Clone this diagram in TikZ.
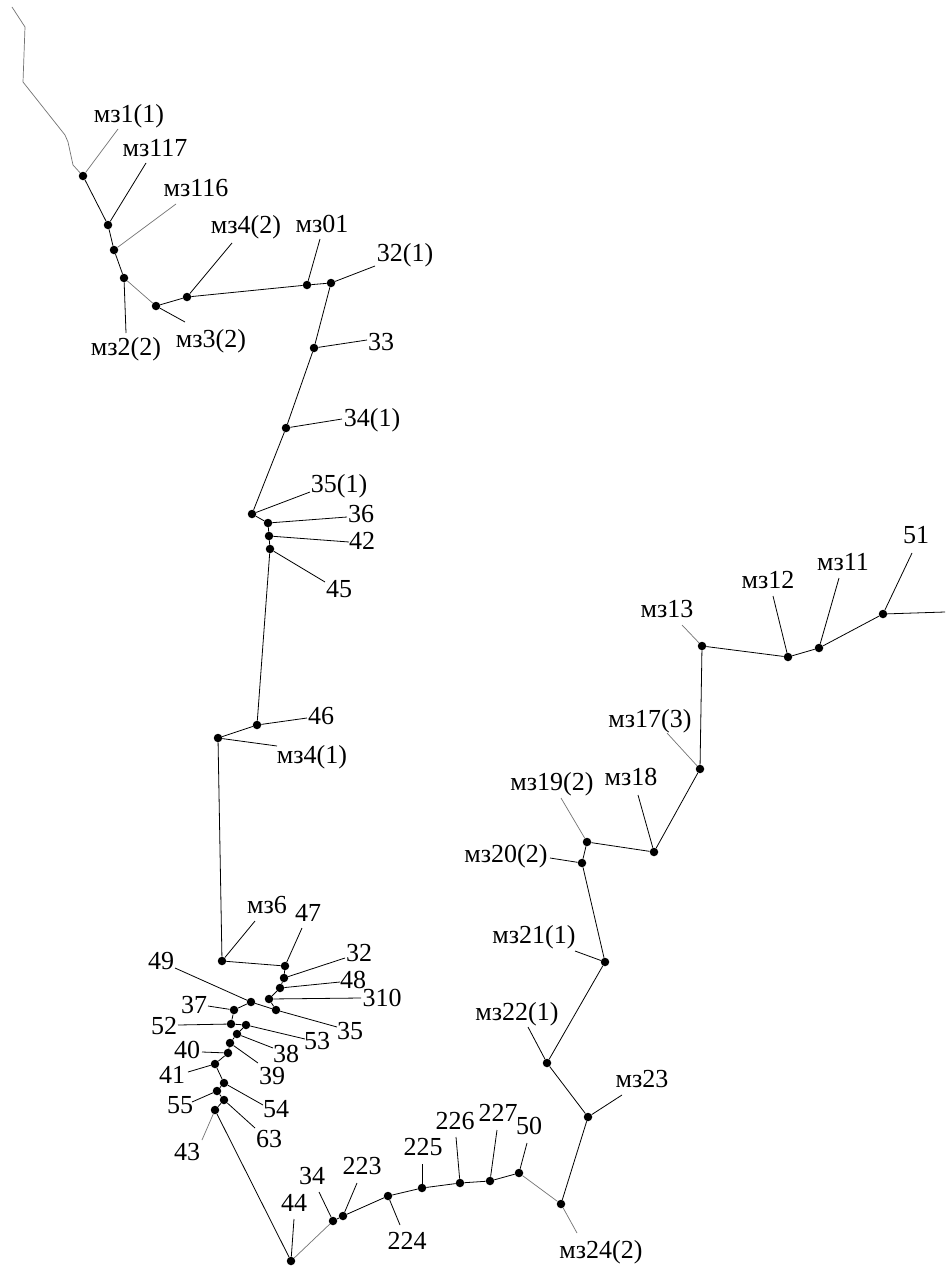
\documentclass[tikz,border=0pt]{standalone}
\usepackage{fontspec}
\setmainfont{Liberation Serif}
\begin{document}
\begin{tikzpicture}[x=1pt,y=-1pt,
  pt/.style={circle,fill=black,inner sep=0pt,minimum size=8.5pt},
  lb/.style={font=\fontsize{26}{28}\selectfont,inner sep=0pt,anchor=base},
  ln/.style={line width=0.8pt,black},
  fl/.style={line width=0.7pt,black!55}]
\fill[white] (0,0) rectangle (945,1279);
\useasboundingbox (0,0) rectangle (945,1279);
% ---------- points ----------
\node[pt] (m31) at (83,176) {};
\node[pt] (m3117) at (108,225) {};
\node[pt] (m3116) at (114,250) {};
\node[pt] (m32b) at (124,278) {};
\node[pt] (m33b) at (156,306) {};
\node[pt] (m34b) at (187,297) {};
\node[pt] (m301) at (307,285) {};
\node[pt] (p32a) at (331,283) {};
\node[pt] (p33) at (314,348) {};
\node[pt] (p34a) at (286,428) {};
\node[pt] (p35a) at (252,514) {};
\node[pt] (p36) at (268,523) {};
\node[pt] (p42) at (269,536) {};
\node[pt] (p45) at (270,549) {};
\node[pt] (p46) at (257,725) {};
\node[pt] (m34a) at (218,738) {};
\node[pt] (m36) at (222,961) {};
\node[pt] (p47) at (285,966) {};
\node[pt] (p32) at (284,978) {};
\node[pt] (p48) at (280,988) {};
\node[pt] (p310) at (269,999) {};
\node[pt] (p49) at (251,1002) {};
\node[pt] (p35) at (276,1010) {};
\node[pt] (p37) at (234,1010) {};
\node[pt] (p52) at (231,1024) {};
\node[pt] (p53) at (246,1025) {};
\node[pt] (p38) at (237,1034) {};
\node[pt] (p39) at (230,1043) {};
\node[pt] (p40) at (228,1053) {};
\node[pt] (p41) at (215,1064) {};
\node[pt] (p54) at (224,1083) {};
\node[pt] (p55) at (217,1091) {};
\node[pt] (p63) at (224,1100) {};
\node[pt] (p43) at (215,1110) {};
\node[pt] (p44) at (291,1261) {};
\node[pt] (p34b) at (333,1221) {};
\node[pt] (p223) at (343,1216) {};
\node[pt] (p224) at (388,1196) {};
\node[pt] (p225) at (422,1188) {};
\node[pt] (p226) at (460,1183) {};
\node[pt] (p227) at (490,1181) {};
\node[pt] (p50) at (519,1173) {};
\node[pt] (m324) at (561,1204) {};
\node[pt] (m323) at (588,1117) {};
\node[pt] (m322) at (547,1063) {};
\node[pt] (m321) at (605,962) {};
\node[pt] (m320) at (582,863) {};
\node[pt] (m319) at (587,842) {};
\node[pt] (m318) at (654,852) {};
\node[pt] (m317) at (700,769) {};
\node[pt] (m313) at (702,646) {};
\node[pt] (m312) at (788,657) {};
\node[pt] (m311) at (819,648) {};
\node[pt] (p51) at (883,614) {};
% ---------- free ends ----------
\coordinate (s1) at (12,7);
\coordinate (s2) at (25,27);
\coordinate (s3) at (23,82);
\coordinate (s4) at (65,135);
\coordinate (s5) at (68,142);
\coordinate (s6) at (73,165);
\coordinate (eEnd) at (945,612);
% ---------- traverse ----------
\draw[fl] (s1) -- (s2) -- (s3) -- (s4) -- (s5) -- (s6) -- (m31);
\draw[ln] (m31) -- (m3117);
\draw[ln] (m3117) -- (m3116);
\draw[ln] (m3116) -- (m32b);
\draw[fl] (m32b) -- (m33b);
\draw[ln] (m33b) -- (m34b);
\draw[ln] (m34b) -- (m301);
\draw[ln] (m301) -- (p32a);
\draw[ln] (p32a) -- (p33);
\draw[ln] (p33) -- (p34a);
\draw[ln] (p34a) -- (p35a);
\draw[ln] (p35a) -- (p36);
\draw[ln] (p36) -- (p42);
\draw[ln] (p42) -- (p45);
\draw[ln] (p45) -- (p46);
\draw[ln] (p46) -- (m34a);
\draw[ln] (m34a) -- (m36);
\draw[ln] (m36) -- (p47);
\draw[ln] (p47) -- (p32);
\draw[ln] (p32) -- (p48);
\draw[ln] (p48) -- (p310);
\draw[ln] (p310) -- (p35);
\draw[ln] (p49) -- (p37);
\draw[ln] (p37) -- (p52);
\draw[ln] (p52) -- (p53);
\draw[ln] (p53) -- (p38);
\draw[ln] (p38) -- (p39);
\draw[ln] (p39) -- (p40);
\draw[ln] (p40) -- (p41);
\draw[ln] (p41) -- (p54);
\draw[ln] (p54) -- (p55);
\draw[ln] (p55) -- (p63);
\draw[ln] (p63) -- (p43);
\draw[ln] (p43) -- (p44);
\draw[fl] (p44) -- (p34b);
\draw[ln] (p34b) -- (p223);
\draw[ln] (p223) -- (p224);
\draw[ln] (p224) -- (p225);
\draw[ln] (p225) -- (p226);
\draw[ln] (p226) -- (p227);
\draw[ln] (p227) -- (p50);
\draw[fl] (p50) -- (m324);
\draw[ln] (m324) -- (m323);
\draw[ln] (m323) -- (m322);
\draw[ln] (m322) -- (m321);
\draw[ln] (m321) -- (m320);
\draw[ln] (m320) -- (m319);
\draw[ln] (m319) -- (m318);
\draw[ln] (m318) -- (m317);
\draw[ln] (m317) -- (m313);
\draw[ln] (m313) -- (m312);
\draw[ln] (m312) -- (m311);
\draw[ln] (m311) -- (p51);
\draw[ln] (p51) -- (eEnd);
% ---------- labels with leaders ----------
\node[lb] (Lm31) at (129,123) {мз1(1)};
\coordinate (Em31) at (118,129);  \draw[fl] (m31) -- (Em31);
\node[lb] (Lm3117) at (155,156) {мз117};
\coordinate (Em3117) at (146,163);  \draw[ln] (m3117) -- (Em3117);
\node[lb] (Lm3116) at (196,196) {мз116};
\coordinate (Em3116) at (176,204);  \draw[fl] (m3116) -- (Em3116);
\node[lb] (Lm34b) at (246,233) {мз4(2)};
\coordinate (Em34b) at (232,243);  \draw[ln] (m34b) -- (Em34b);
\node[lb] (Lm301) at (322,232) {мз01};
\coordinate (Em301) at (320,239);  \draw[ln] (m301) -- (Em301);
\node[lb] (Lp32a) at (405,261) {32(1)};
\coordinate (Ep32a) at (375,266);  \draw[ln] (p32a) -- (Ep32a);
\node[lb] (Lm32b) at (126,355) {мз2(2)};
\coordinate (Em32b) at (126,333);  \draw[ln] (m32b) -- (Em32b);
\node[lb] (Lm33b) at (211,347) {мз3(2)};
\coordinate (Em33b) at (185,322);  \draw[ln] (m33b) -- (Em33b);
\node[lb] (Lp33) at (381,350) {33};
\coordinate (Ep33) at (367,340);  \draw[ln] (p33) -- (Ep33);
\node[lb] (Lp34a) at (372,426) {34(1)};
\coordinate (Ep34a) at (342,419);  \draw[ln] (p34a) -- (Ep34a);
\node[lb] (Lp35a) at (339,492) {35(1)};
\coordinate (Ep35a) at (310,492);  \draw[ln] (p35a) -- (Ep35a);
\node[lb] (Lp36) at (361,522) {36};
\coordinate (Ep36) at (347,517);  \draw[ln] (p36) -- (Ep36);
\node[lb] (Lp42) at (362,549) {42};
\coordinate (Ep42) at (349,542);  \draw[ln] (p42) -- (Ep42);
\node[lb] (Lp45) at (339,597) {45};
\coordinate (Ep45) at (325,582);  \draw[ln] (p45) -- (Ep45);
\node[lb] (Lp46) at (321,724) {46};
\coordinate (Ep46) at (307,718);  \draw[ln] (p46) -- (Ep46);
\node[lb] (Lm34a) at (312,763) {мз4(1)};
\coordinate (Em34a) at (277,746);  \draw[ln] (m34a) -- (Em34a);
\node[lb] (Lm36) at (267,913) {мз6};
\coordinate (Em36) at (255,921);  \draw[ln] (m36) -- (Em36);
\node[lb] (Lp47) at (308,921) {47};
\coordinate (Ep47) at (302,928);  \draw[ln] (p47) -- (Ep47);
\node[lb] (Lp32) at (359,961) {32};
\coordinate (Ep32) at (345,958);  \draw[ln] (p32) -- (Ep32);
\node[lb] (Lp48) at (353,988) {48};
\coordinate (Ep48) at (340,982);  \draw[ln] (p48) -- (Ep48);
\node[lb] (Lp310) at (382,1006) {310};
\coordinate (Ep310) at (361,998);  \draw[ln] (p310) -- (Ep310);
\node[lb] (Lp49) at (161,969) {49};
\coordinate (Ep49) at (175,968);  \draw[ln] (p49) -- (Ep49);
\node[lb] (Lp35) at (350,1039) {35};
\coordinate (Ep35) at (337,1027);  \draw[ln] (p35) -- (Ep35);
\draw[ln] (p49) -- (p35);
\node[lb] (Lp37) at (194,1013) {37};
\coordinate (Ep37) at (208,1006);  \draw[ln] (p37) -- (Ep37);
\node[lb] (Lp52) at (164,1034) {52};
\coordinate (Ep52) at (178,1025);  \draw[ln] (p52) -- (Ep52);
\node[lb] (Lp53) at (317,1049) {53};
\coordinate (Ep53) at (305,1039);  \draw[ln] (p53) -- (Ep53);
\node[lb] (Lp38) at (286,1062) {38};
\coordinate (Ep38) at (273,1048);  \draw[ln] (p38) -- (Ep38);
\node[lb] (Lp39) at (272,1084) {39};
\coordinate (Ep39) at (258,1063);  \draw[ln] (p39) -- (Ep39);
\node[lb] (Lp40) at (187,1058) {40};
\coordinate (Ep40) at (202,1052);  \draw[ln] (p40) -- (Ep40);
\node[lb] (Lp41) at (172,1083) {41};
\coordinate (Ep41) at (188,1072);  \draw[ln] (p41) -- (Ep41);
\node[lb] (Lp54) at (276,1117) {54};
\coordinate (Ep54) at (263,1105);  \draw[ln] (p54) -- (Ep54);
\node[lb] (Lp55) at (180,1113) {55};
\coordinate (Ep55) at (192,1102);  \draw[ln] (p55) -- (Ep55);
\node[lb] (Lp63) at (269,1147) {63};
\coordinate (Ep63) at (255,1128);  \draw[ln] (p63) -- (Ep63);
\node[lb] (Lp43) at (187,1160) {43};
\coordinate (Ep43) at (202,1140);  \draw[fl] (p43) -- (Ep43);
\node[lb] (Lp44) at (294,1211) {44};
\coordinate (Ep44) at (294,1219);  \draw[ln] (p44) -- (Ep44);
\node[lb] (Lp34b) at (312,1184) {34};
\coordinate (Ep34b) at (319,1192);  \draw[ln] (p34b) -- (Ep34b);
\node[lb] (Lp223) at (362,1174) {223};
\coordinate (Ep223) at (357,1183);  \draw[ln] (p223) -- (Ep223);
\node[lb] (Lp224) at (407,1249) {224};
\coordinate (Ep224) at (400,1225);  \draw[ln] (p224) -- (Ep224);
\node[lb] (Lp225) at (423,1155) {225};
\coordinate (Ep225) at (422,1164);  \draw[ln] (p225) -- (Ep225);
\node[lb] (Lp226) at (455,1129) {226};
\coordinate (Ep226) at (456,1137);  \draw[ln] (p226) -- (Ep226);
\node[lb] (Lp227) at (498,1121) {227};
\coordinate (Ep227) at (497,1130);  \draw[ln] (p227) -- (Ep227);
\node[lb] (Lp50) at (529,1134) {50};
\coordinate (Ep50) at (527,1143);  \draw[ln] (p50) -- (Ep50);
\node[lb] (Lm324) at (601,1258) {мз24(2)};
\coordinate (Em324) at (577,1233);  \draw[fl] (m324) -- (Em324);
\node[lb] (Lm323) at (642,1087) {мз23};
\coordinate (Em323) at (622,1095);  \draw[ln] (m323) -- (Em323);
\node[lb] (Lm322) at (517,1020) {мз22(1)};
\coordinate (Em322) at (528,1027);  \draw[ln] (m322) -- (Em322);
\node[lb] (Lm321) at (534,943) {мз21(1)};
\coordinate (Em321) at (575,951);  \draw[ln] (m321) -- (Em321);
\node[lb] (Lm320) at (506,862) {мз20(2)};
\coordinate (Em320) at (550,858);  \draw[ln] (m320) -- (Em320);
\node[lb] (Lm319) at (552,790) {мз19(2)};
\coordinate (Em319) at (561,798);  \draw[fl] (m319) -- (Em319);
\node[lb] (Lm318) at (631,785) {мз18};
\coordinate (Em318) at (638,795);  \draw[ln] (m318) -- (Em318);
\node[lb] (Lm317) at (650,727) {мз17(3)};
\coordinate (Em317) at (667,733);  \draw[fl] (m317) -- (Em317);
\node[lb] (Lm313) at (667,617) {мз13};
\coordinate (Em313) at (682,625);  \draw[fl] (m313) -- (Em313);
\node[lb] (Lm312) at (768,588) {мз12};
\coordinate (Em312) at (773,596);  \draw[ln] (m312) -- (Em312);
\node[lb] (Lm311) at (843,570) {мз11};
\coordinate (Em311) at (839,578);  \draw[ln] (m311) -- (Em311);
\node[lb] (Lp51) at (916,543) {51};
\coordinate (Ep51) at (912,553);  \draw[ln] (p51) -- (Ep51);
\end{tikzpicture}
\end{document}
